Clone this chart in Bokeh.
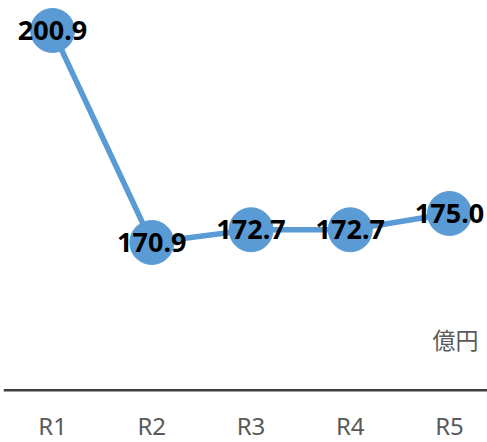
from bokeh.plotting import figure
from bokeh.models import ColumnDataSource, Range1d, Label, Span
from bokeh.core.properties import value
from bokeh.embed import file_html
from bokeh.resources import INLINE

categories = ["R1", "R2", "R3", "R4", "R5"]
values = [200.9, 170.9, 172.7, 172.7, 175.0]
labels = ["200.9", "170.9", "172.7", "172.7", "175.0"]
unit_label = "億円"
axis_base = 150.0

xs = list(range(len(categories)))
src = ColumnDataSource(dict(x=xs, y=values, t=labels))
cat_src = ColumnDataSource(dict(x=xs, t=categories, y=[145.0] * len(categories)))

p = figure(width=487, height=442, output_backend="svg", toolbar_location=None,
           x_range=Range1d(-0.494, 4.383), y_range=Range1d(142.6, 205.14),
           min_border_left=3, min_border_right=0, min_border_top=0, min_border_bottom=0)
p.outline_line_color = None
p.background_fill_color = "white"
p.border_fill_color = "white"
p.grid.visible = False
p.axis.visible = False

# category axis baseline and labels
p.add_layout(Span(location=axis_base, dimension="width", line_color="#404040", line_width=2.5))
p.text("x", "y", text="t", source=cat_src, text_font=value("Noto Sans"), text_font_size="24px",
       text_color="#595959", text_align="center", text_baseline="middle")

p.line("x", "y", source=src, line_color="#5B9BD5", line_width=5.5)
p.scatter("x", "y", source=src, size=44, fill_color="#5B9BD5", line_color="#5B9BD5")
p.text("x", "y", text="t", source=src, text_font=value("Noto Sans"), text_font_style="bold",
       text_font_size="27px", text_color="black", text_align="center", text_baseline="middle")

p.add_layout(Label(x=4.383, y=157.3, x_offset=-9, text=unit_label, text_align="right",
                   text_baseline="middle", text_font="Noto Sans CJK JP", text_font_size="23px",
                   text_color="#595959"))

open("out.html", "w").write(file_html(p, INLINE))
